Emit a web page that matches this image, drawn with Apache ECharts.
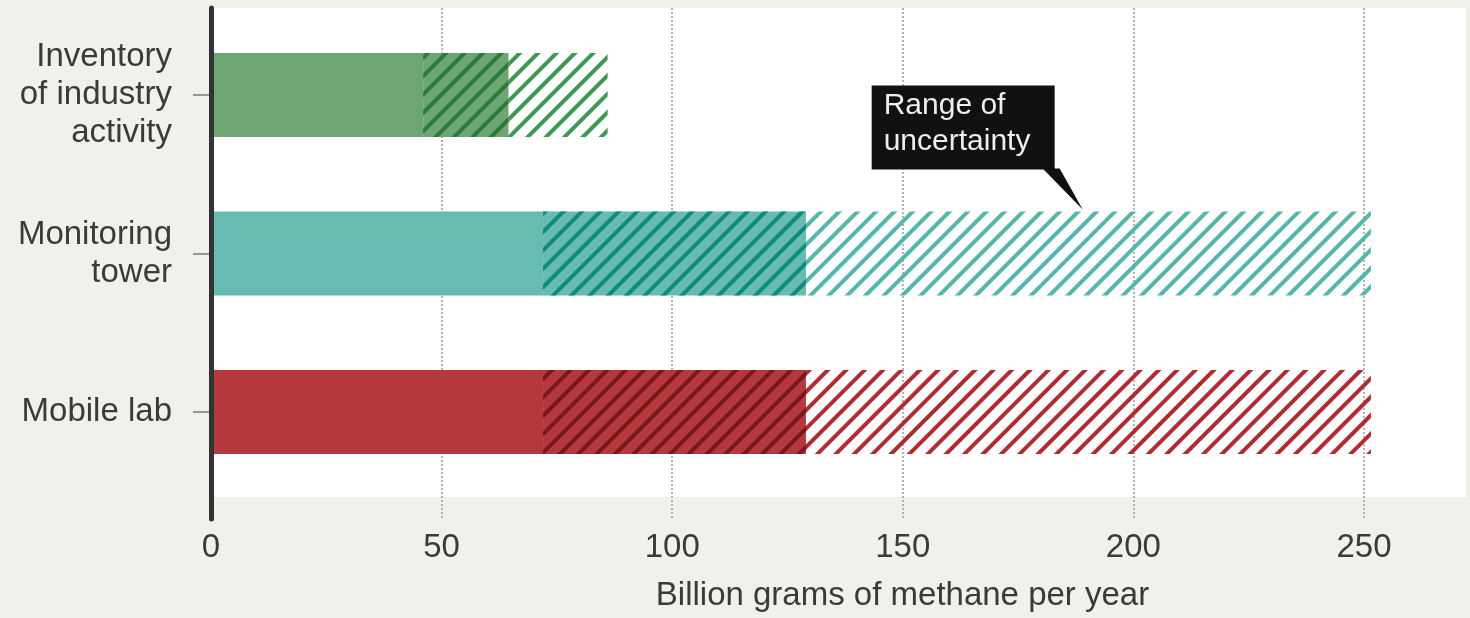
<!DOCTYPE html>
<html>
<head>
<meta charset="utf-8">
<script src="https://cdn.jsdelivr.net/npm/echarts@6/dist/echarts.min.js"></script>
<style>
  html, body { margin: 0; padding: 0; background: #f1f0ea; }
  #main { width: 1470px; height: 618px; }
</style>
</head>
<body>
<div id="main"></div>
<script>
// data (billion grams of methane per year)
const categories = ['Inventory\nof industry\nactivity', 'Monitoring\ntower', 'Mobile lab']
const lowValues = [46, 72, 72]
const centralValues = [64.5, 129, 129]
const highValues = [86, 251.5, 251.5]
const xTickMin = 0
const xTickMax = 250
const xTickStep = 50
const calloutText = 'Range of\nuncertainty'
const calloutValue = 189

// colours per category
const solidColors = ['#6ea673', '#67bbb0', '#b4383c']
const darkHatch = ['#2b7a3c', '#0d8c7b', '#7a171b']
const lightHatch = ['#3f9852', '#55b6aa', '#ae2d32']

const font = 'Liberation Sans'
const textColor = '#3a3a3a'
const pxPerUnit = 1153 / 250

function hatch (color) {
  return {
    symbol: 'rect',
    symbolSize: 1,
    dashArrayX: [1, 0],
    dashArrayY: [4, 9],
    rotation: -Math.PI / 4,
    color: color
  }
}

const myChart = echarts.init(document.getElementById('main'))

const option = {
  backgroundColor: '#f1f0ea',
  animation: false,
  textStyle: { fontFamily: font },
  grid: [
    // white plot panel
    { left: 213, top: 8, right: 4, height: 489, show: true, backgroundColor: '#ffffff', borderWidth: 0 },
    // frame: gridlines, ticks and the y axis line
    { left: 211, top: 8, right: 1470 - 211 - 1153, bottom: 618 - 519 },
    // bars
    { left: 211, top: 15.75, right: 1470 - 211 - 272 * pxPerUnit, height: 475.5 }
  ],
  xAxis: [
    { gridIndex: 0, type: 'value', show: false },
    {
      gridIndex: 1,
      type: 'value',
      min: xTickMin,
      max: xTickMax,
      interval: xTickStep,
      axisLine: { show: false },
      axisTick: { show: false },
      splitLine: { show: true, lineStyle: { color: '#9a9a9a', width: 1.5, type: [2, 2] } },
      axisLabel: { fontSize: 33, color: textColor, margin: 12, fontFamily: font },
      name: 'Billion grams of methane per year',
      nameLocation: 'middle',
      nameGap: 60,
      nameTextStyle: { fontSize: 33, color: textColor, fontFamily: font, padding: [0, 0, 0, 230] }
    },
    { gridIndex: 2, type: 'value', min: 0, max: 272, show: false }
  ],
  yAxis: [
    { gridIndex: 0, type: 'value', show: false },
    {
      gridIndex: 1,
      type: 'value',
      min: 0,
      max: 1,
      z: 3,
      axisLine: { show: true, lineStyle: { color: '#333333', width: 5 } },
      axisTick: { show: false },
      axisLabel: { show: false },
      splitLine: { show: false }
    },
    {
      gridIndex: 2,
      type: 'category',
      inverse: true,
      data: categories,
      axisLine: { show: false },
      axisTick: { show: true, alignWithLabel: true, length: 18, lineStyle: { color: '#7a7a7a', width: 1.5 } },
      axisLabel: { fontSize: 33, lineHeight: 38, color: textColor, margin: 39, align: 'right', fontFamily: font },
      splitLine: { show: false }
    }
  ],
  series: [
    {
      name: 'low',
      type: 'bar',
      xAxisIndex: 2,
      yAxisIndex: 2,
      stack: 'range',
      barWidth: 84,
      data: lowValues.map((v, i) => ({ value: v, itemStyle: { color: solidColors[i] } }))
    },
    {
      name: 'low to central',
      type: 'bar',
      xAxisIndex: 2,
      yAxisIndex: 2,
      stack: 'range',
      barWidth: 84,
      data: centralValues.map((v, i) => ({
        value: v - lowValues[i],
        itemStyle: { color: solidColors[i], decal: hatch(darkHatch[i]) }
      }))
    },
    {
      name: 'central to high',
      type: 'bar',
      xAxisIndex: 2,
      yAxisIndex: 2,
      stack: 'range',
      barWidth: 84,
      data: highValues.map((v, i) => ({
        value: v - centralValues[i],
        itemStyle: { color: 'rgba(255,255,255,0)', decal: hatch(lightHatch[i]) }
      }))
    }
  ]
}

myChart.setOption(option)

// callout pointing at the top edge of the monitoring tower range
const tip = myChart.convertToPixel({ xAxisIndex: 2, yAxisIndex: 2 }, [calloutValue, categories[1]])
myChart.setOption({
  graphic: [{
    type: 'group',
    x: tip[0],
    y: tip[1] - 44,
    z: 10,
    children: [
      { type: 'rect', shape: { x: -211, y: -124, width: 183, height: 84 }, style: { fill: '#111111' } },
      { type: 'polygon', shape: { points: [[-40, -41], [-23, -41], [0, 0]] }, style: { fill: '#111111' } },
      {
        type: 'text',
        x: -199,
        y: -122,
        style: { text: calloutText, fill: '#eeeeee', fontSize: 30, lineHeight: 36, fontFamily: font, verticalAlign: 'top', align: 'left' }
      }
    ]
  }]
})
</script>
</body>
</html>
